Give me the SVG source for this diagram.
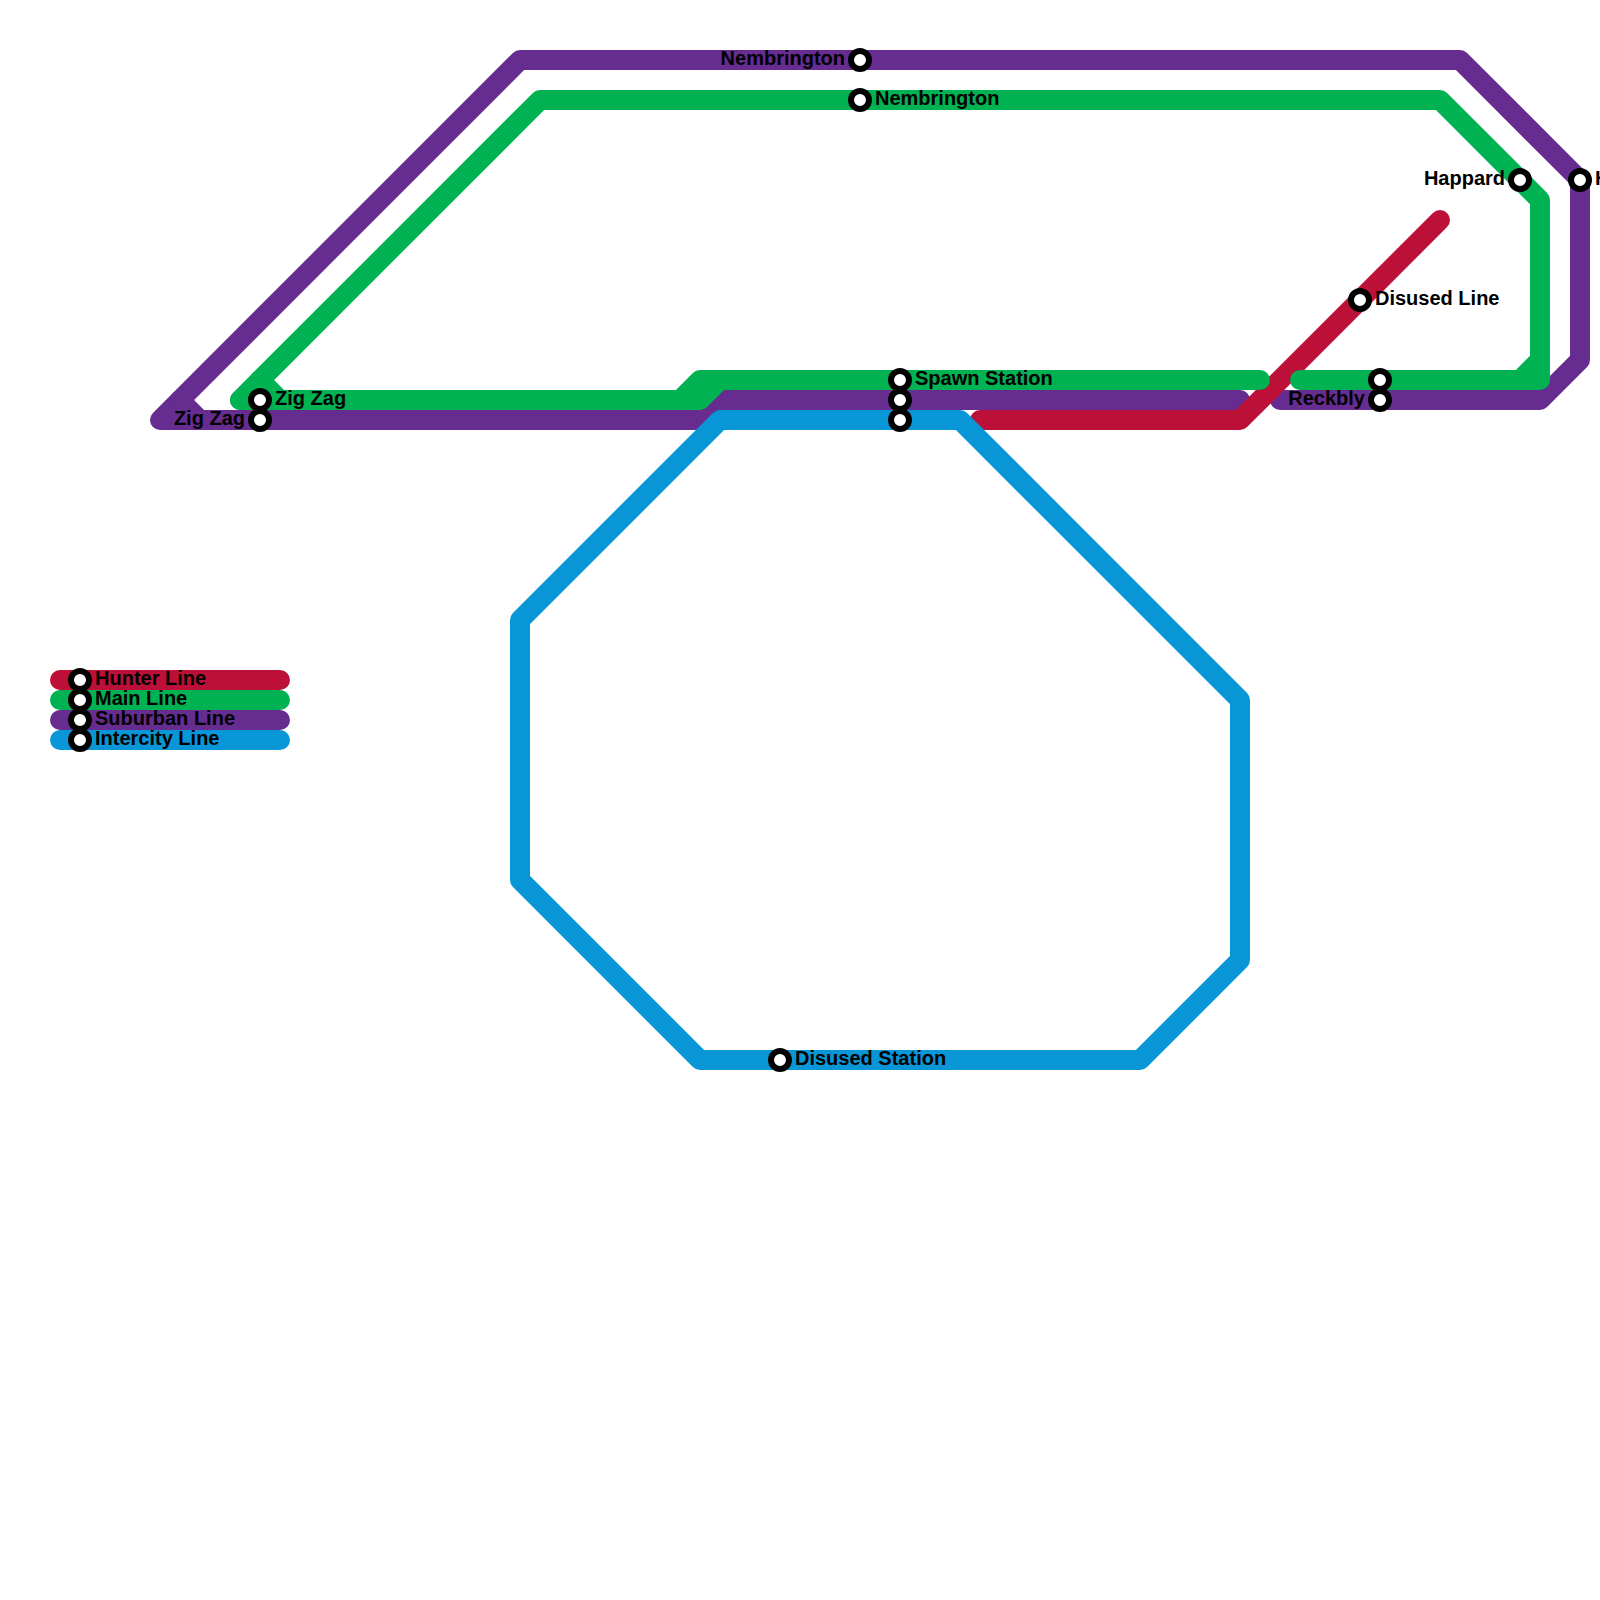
<svg xmlns="http://www.w3.org/2000/svg" width="1600" height="1600" viewBox="0 0 1600 1600">
<style>
.l{fill:none;stroke-width:20;stroke-linecap:round;stroke-linejoin:round}
.h{stroke:#bd1038}.m{stroke:#00b251}.s{stroke:#662c90}.i{stroke:#0896d7}
.st{fill:#fff;stroke:#000;stroke-width:6}
text{font-family:"Liberation Sans",Arial,sans-serif;font-weight:bold;font-size:20px;fill:#000}
.e{text-anchor:end}
</style>
<rect width="1600" height="1600" fill="#fff"/>
<g id="connectors">
<path class="l s" d="M1280 400H1540L1580 360V180L1460 60H520L160 420H700L720 400H1240"/>
<path class="l s" d="M180 400L200 420"/>
<path class="l h" d="M980 420H1240L1440 220"/>
<path class="l m" d="M240 400L540 100H1440L1540 200V380H1300"/>
<path class="l m" d="M1540 360L1520 380"/>
<path class="l m" d="M260 380L280 400"/>
<path class="l m" d="M240 400H700L720 380H1260"/>
<path class="l m" d="M680 400L700 380H720"/>
<path class="l i" d="M720 420H960L1240 700V960L1140 1060H700L520 880V620Z"/>
<path class="l h" d="M60 680H280"/>
<path class="l m" d="M60 700H280"/>
<path class="l s" d="M60 720H280"/>
<path class="l i" d="M60 740H280"/>
</g>
<g id="n1"><circle class="st" cx="860" cy="60" r="9"/><text class="e" x="845" y="65">Nembrington</text></g>
<g id="n2"><circle class="st" cx="860" cy="100" r="9"/><text x="875" y="105">Nembrington</text></g>
<g id="n3"><circle class="st" cx="260" cy="400" r="9"/><text x="275" y="405">Zig Zag</text></g>
<g id="n4"><circle class="st" cx="260" cy="420" r="9"/><text class="e" x="245" y="425">Zig Zag</text></g>
<g id="n5"><circle class="st" cx="900" cy="380" r="9"/><text x="915" y="385">Spawn Station</text></g>
<g id="n6"><circle class="st" cx="900" cy="400" r="9"/></g>
<g id="n7"><circle class="st" cx="900" cy="420" r="9"/></g>
<g id="n8"><circle class="st" cx="1360" cy="300" r="9"/><text x="1375" y="305">Disused Line</text></g>
<g id="n9"><circle class="st" cx="1520" cy="180" r="9"/><text class="e" x="1505" y="185">Happard</text></g>
<g id="n10"><circle class="st" cx="1580" cy="180" r="9"/><text x="1595" y="185">Happard</text></g>
<g id="n11"><circle class="st" cx="1380" cy="380" r="9"/></g>
<g id="n12"><circle class="st" cx="1380" cy="400" r="9"/><text class="e" x="1365" y="405">Reckbly</text></g>
<g id="n13"><circle class="st" cx="780" cy="1060" r="9"/><text x="795" y="1065">Disused Station</text></g>
<g id="k1"><circle class="st" cx="80" cy="680" r="9"/><text x="95" y="685">Hunter Line</text></g>
<g id="k2"><circle class="st" cx="80" cy="700" r="9"/><text x="95" y="705">Main Line</text></g>
<g id="k3"><circle class="st" cx="80" cy="720" r="9"/><text x="95" y="725">Suburban Line</text></g>
<g id="k4"><circle class="st" cx="80" cy="740" r="9"/><text x="95" y="745">Intercity Line</text></g>
</svg>
